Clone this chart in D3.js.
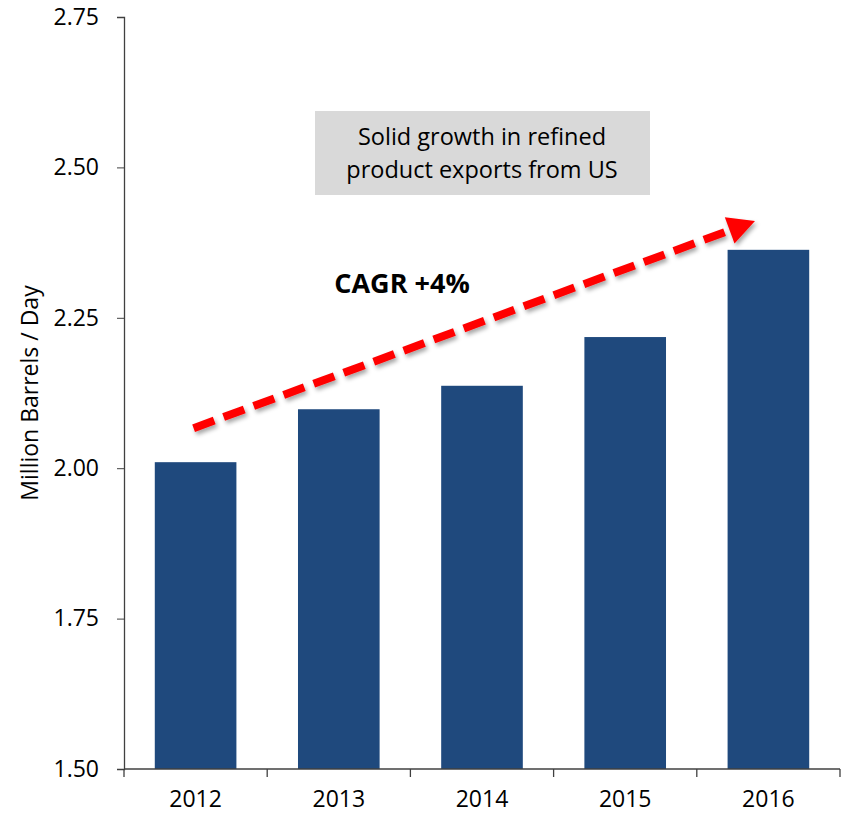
<!DOCTYPE html>
<html>
<head>
<meta charset="utf-8">
<script src="https://cdn.jsdelivr.net/npm/d3@7"></script>
<style>
  body { margin: 0; background: #fff; }
  svg text { font-family: "Open Sans", "Noto Sans", sans-serif; }
</style>
</head>
<body>
<div id="chart"></div>
<script>
const years = ["2012", "2013", "2014", "2015", "2016"];
const exports = [2.01, 2.098, 2.137, 2.218, 2.363];
const yTicks = [1.5, 1.75, 2.0, 2.25, 2.5, 2.75];
const boxLines = ["Solid growth in refined", "product exports from US"];
const cagrLabel = "CAGR +4%";

const width = 848, height = 815;
const margin = { top: 17, right: 8, bottom: 46, left: 124 };

const svg = d3.select("#chart").append("svg")
  .attr("width", width)
  .attr("height", height);

const x = d3.scaleBand()
  .domain(years)
  .range([margin.left, width - margin.right])
  .paddingInner(0.43)
  .paddingOuter(0.215);

const y = d3.scaleLinear()
  .domain([1.5, 2.75])
  .range([height - margin.bottom, margin.top]);

// bars
svg.selectAll("rect.bar")
  .data(years)
  .join("rect")
  .attr("class", "bar")
  .attr("x", d => x(d))
  .attr("width", x.bandwidth())
  .attr("y", (d, i) => y(exports[i]))
  .attr("height", (d, i) => y(1.5) - y(exports[i]))
  .attr("fill", "#1F497D");

// y axis
const yAxis = svg.append("g")
  .attr("transform", `translate(${margin.left},0)`)
  .call(d3.axisLeft(y).tickValues(yTicks).tickFormat(d3.format(".2f")).tickSize(7).tickPadding(18));
yAxis.select(".domain").attr("stroke", "#404040").attr("stroke-width", 1.3);
yAxis.selectAll(".tick line").attr("stroke", "#404040");
yAxis.selectAll("text").attr("font-size", 23).attr("fill", "#000");

// x axis, ticks sit between the categories
const xAxis = svg.append("g")
  .attr("transform", `translate(0,${y(1.5)})`);
xAxis.append("line")
  .attr("x1", margin.left).attr("x2", width - margin.right)
  .attr("stroke", "#404040").attr("stroke-width", 1.3);
const step = x.step();
const boundaries = years.map(d => x(d) - (step - x.bandwidth()) / 2);
boundaries.push(width - margin.right);
xAxis.selectAll("line.tick")
  .data(boundaries)
  .join("line")
  .attr("class", "tick")
  .attr("x1", d => d).attr("x2", d => d)
  .attr("y1", 0).attr("y2", 8)
  .attr("stroke", "#404040").attr("stroke-width", 1.3);
xAxis.selectAll("text")
  .data(years)
  .join("text")
  .attr("x", d => x(d) + x.bandwidth() / 2)
  .attr("y", 38)
  .attr("text-anchor", "middle")
  .attr("font-size", 23)
  .text(d => d);

// y axis title
svg.append("text")
  .attr("transform", `translate(38,${(y(1.5) + y(2.75)) / 2}) rotate(-90)`)
  .attr("text-anchor", "middle")
  .attr("font-size", 23)
  .text("Million Barrels / Day");

// annotation box
const box = svg.append("g");
box.append("rect")
  .attr("x", 315).attr("y", 111)
  .attr("width", 335).attr("height", 84)
  .attr("fill", "#D9D9D9");
box.selectAll("text")
  .data(boxLines)
  .join("text")
  .attr("x", 482)
  .attr("y", (d, i) => 145 + i * 33)
  .attr("text-anchor", "middle")
  .attr("font-size", 23.5)
  .text(d => d);

// CAGR label
svg.append("text")
  .attr("x", 402).attr("y", 293)
  .attr("text-anchor", "middle")
  .attr("font-size", 27)
  .attr("font-weight", "bold")
  .text(cagrLabel);

// dashed trend arrow with soft shadow
const defs = svg.append("defs");
const f = defs.append("filter").attr("id", "shadow").attr("x", "-10%").attr("y", "-10%").attr("width", "130%").attr("height", "130%");
f.append("feDropShadow").attr("dx", 2).attr("dy", 3).attr("stdDeviation", 2).attr("flood-color", "#000").attr("flood-opacity", 0.35);

const x0 = x("2012") + x.bandwidth() / 2 - 2, y0 = y(2.01) - 34;
const x1 = 755, y1 = 221;
const ang = Math.atan2(y1 - y0, x1 - x0);
const headLen = 27, headW = 14;
const bx = x1 - headLen * Math.cos(ang), by = y1 - headLen * Math.sin(ang);

const arrow = svg.append("g").attr("filter", "url(#shadow)");
arrow.append("line")
  .attr("x1", x0).attr("y1", y0)
  .attr("x2", bx + 4 * Math.cos(ang)).attr("y2", by + 4 * Math.sin(ang))
  .attr("stroke", "#FF0000")
  .attr("stroke-width", 8)
  .attr("stroke-dasharray", "22,10");
arrow.append("path")
  .attr("d", d3.line()([
    [x1, y1],
    [bx + headW * Math.sin(ang), by - headW * Math.cos(ang)],
    [bx - headW * Math.sin(ang), by + headW * Math.cos(ang)]
  ]) + "Z")
  .attr("fill", "#FF0000");
</script>
</body>
</html>
